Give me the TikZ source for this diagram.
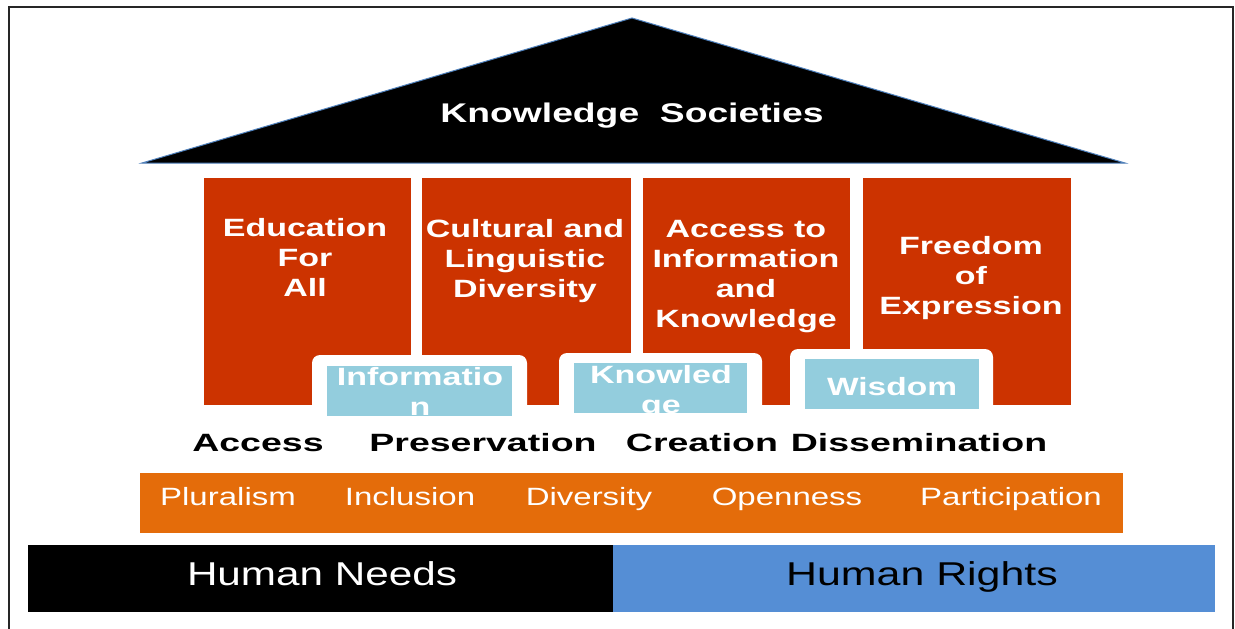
\documentclass[tikz,border=0pt]{standalone}
\usepackage{fontspec}
\setmainfont{Liberation Sans}
\definecolor{pillarred}{HTML}{CC3300}
\definecolor{boxblue}{HTML}{93CDDD}
\definecolor{barorange}{HTML}{E46C0A}
\definecolor{barblue}{HTML}{558ED5}
\definecolor{roofedge}{HTML}{4F81BD}
\newcommand{\sxx}[2]{\scalebox{#1}[1]{#2}}
\tikzset{
  pillar/.style={fill=pillarred, draw=none, inner sep=0pt, minimum height=227pt},
  frameout/.style={fill=white, draw=none, rounded corners=8pt},
  innerbox/.style={fill=boxblue, draw=none},
  ptext/.style={text=white, inner sep=0pt, font=\bfseries\fontsize{25}{30}\selectfont},
  lbl/.style={text=black, inner sep=0pt, anchor=base, font=\bfseries\fontsize{25}{30}\selectfont},
  otext/.style={text=white, inner sep=0pt, anchor=base, font=\fontsize{25}{30}\selectfont},
  btext/.style={inner sep=0pt, anchor=base, font=\fontsize{33}{40}\selectfont},
  bar/.style={draw=none, inner sep=0pt}
}
\begin{document}
\begin{tikzpicture}[x=1pt,y=-1pt]
\useasboundingbox (0,0) rectangle (1235,629);
\fill[white] (0,0) rectangle (1235,629);
\draw[line width=2pt, black!85] (9,7) rectangle (1233,700);
% roof
\coordinate (rl) at (142,163);
\coordinate (ra) at (632,18);
\coordinate (rr) at (1125,163);
\filldraw[fill=black, draw=roofedge, line width=1pt] (rl) -- (ra) -- (rr) -- cycle;
\node[text=white, inner sep=0pt, anchor=base, font=\bfseries\fontsize{27}{32}\selectfont] (title) at (632,122) {\sxx{1.38}{Knowledge\ \ Societies}};
% pillars
\node[pillar, minimum width=207pt] (p1) at (307.5,291.5) {};
\node[pillar, minimum width=209pt] (p2) at (526.5,291.5) {};
\node[pillar, minimum width=207pt] (p3) at (746.5,291.5) {};
\node[pillar, minimum width=208pt] (p4) at (967,291.5) {};
\node[ptext] (t1) at (305,260) {\sxx{1.36}{\begin{tabular}{@{}c@{}}Education\\For\\All\end{tabular}}};
\node[ptext] (t2) at (525,261) {\sxx{1.36}{\begin{tabular}{@{}c@{}}Cultural and\\Linguistic\\Diversity\end{tabular}}};
\node[ptext] (t3) at (746,276) {\sxx{1.36}{\begin{tabular}{@{}c@{}}Access to\\Information\\and\\Knowledge\end{tabular}}};
\node[ptext] (t4) at (971,278) {\sxx{1.36}{\begin{tabular}{@{}c@{}}Freedom\\of\\Expression\end{tabular}}};
% white frames and blue boxes
\fill[frameout] (312,355) rectangle (527,425);
\fill[frameout] (559,353) rectangle (762,425);
\fill[frameout] (790,349) rectangle (993,425);
\node[innerbox, minimum width=185pt, minimum height=50pt, inner sep=0pt] (b1) at (419.5,391) {};
\node[innerbox, minimum width=173pt, minimum height=50pt, inner sep=0pt] (b2) at (660.5,388) {};
\node[innerbox, minimum width=174pt, minimum height=50pt, inner sep=0pt] (b3) at (892,384) {};
\begin{scope}
\clip (327,366) rectangle (512,416);
\node[ptext, anchor=base] (b1a) at (420,385) {\sxx{1.36}{Informatio}};
\node[ptext, anchor=base] (b1b) at (420,415) {\sxx{1.36}{n}};
\end{scope}
\begin{scope}
\clip (574,363) rectangle (747,413);
\node[ptext, anchor=base] (b2a) at (661,383) {\sxx{1.36}{Knowled}};
\node[ptext, anchor=base] (b2b) at (661,413) {\sxx{1.36}{ge}};
\end{scope}
\node[ptext, anchor=base] (b3a) at (892,395) {\sxx{1.34}{Wisdom}};
% labels
\node[lbl] (l1) at (258,451) {\sxx{1.5}{Access}};
\node[lbl] (l2) at (483,451) {\sxx{1.5}{Preservation}};
\node[lbl] (l3) at (702,451) {\sxx{1.5}{Creation}};
\node[lbl] (l4) at (919,451) {\sxx{1.5}{Dissemination}};
% orange bar
\node[bar, fill=barorange, minimum width=983pt, minimum height=60pt] (ob) at (631.5,503) {};
\node[otext] (o1) at (228,505) {\sxx{1.32}{Pluralism}};
\node[otext] (o2) at (410,505) {\sxx{1.32}{Inclusion}};
\node[otext] (o3) at (589,505) {\sxx{1.32}{Diversity}};
\node[otext] (o4) at (787,505) {\sxx{1.32}{Openness}};
\node[otext] (o5) at (1011,505) {\sxx{1.32}{Participation}};
% bottom bars
\node[bar, fill=black, minimum width=585pt, minimum height=67pt] (hn) at (320.5,578.5) {};
\node[bar, fill=barblue, minimum width=602pt, minimum height=67pt] (hr) at (914,578.5) {};
\node[btext, text=white] (hnt) at (322,585) {\sxx{1.28}{Human Needs}};
\node[btext, text=black] (hrt) at (922,585) {\sxx{1.3}{Human Rights}};
\end{tikzpicture}
\end{document}
